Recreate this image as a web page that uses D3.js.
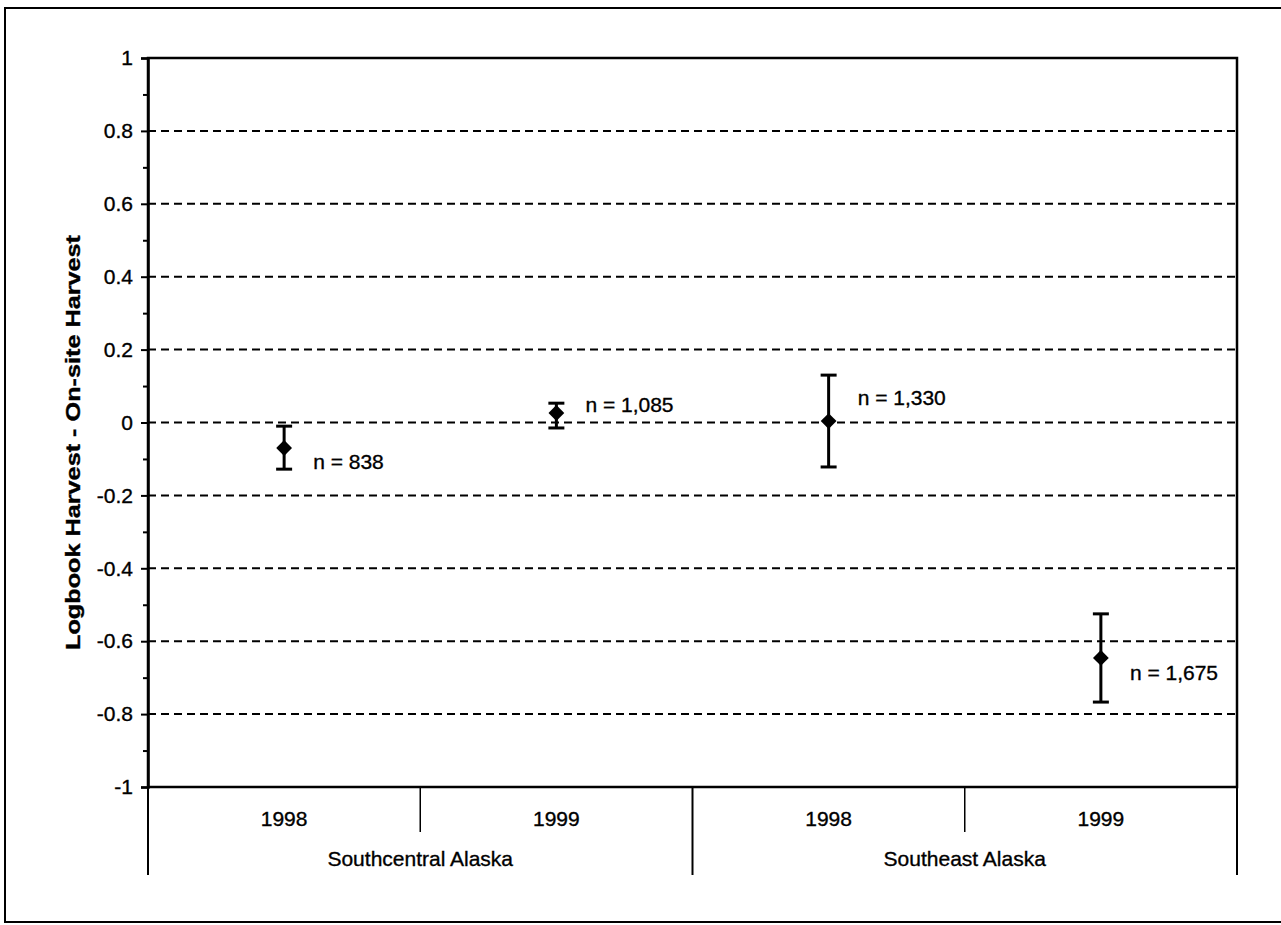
<!DOCTYPE html>
<meta charset="utf-8">
<head>
	<style>
		body {
			margin: 0;
			background: white;
			font-family: Arial, "Liberation Sans", Helvetica, sans-serif;
		}
		svg { display: block; }
		svg text { stroke: black; stroke-width: 0.35px; }
	</style>
	<script src="https://cdn.jsdelivr.net/npm/d3@7"></script>
</head>
<body>
	<svg id="chart"></svg>
</body>
<script>

// data
let regions = ["Southcentral Alaska", "Southeast Alaska"]
let years = ["1998", "1999", "1998", "1999"]
let means = [-0.07, 0.026, 0.004, -0.646]
let lower = [-0.128, -0.015, -0.122, -0.767]
let upper = [-0.01, 0.053, 0.13, -0.525]
let sampleLabels = ["n = 838", "n = 1,085", "n = 1,330", "n = 1,675"]
let labelAt = [-0.108, 0.048, 0.067, -0.685]   // where the n labels sit, in data units
let yTicks = [-1, -0.8, -0.6, -0.4, -0.2, 0, 0.2, 0.4, 0.6, 0.8, 1]
let yMinor = [-0.9, -0.7, -0.5, -0.3, -0.1, 0.1, 0.3, 0.5, 0.7, 0.9]

let fontSize = 21

function getConfig() {
	let width = 1281
	let height = 925
	let margin = { top: 58, bottom: 138, left: 148, right: 44 }
	let bodyHeight = height - margin.top - margin.bottom
	let bodyWidth = width - margin.left - margin.right
	let container = d3.select("#chart")
		.attr("width", width)
		.attr("height", height)
	return { width, height, margin, bodyHeight, bodyWidth, container }
}

function getScales(config) {
	let { margin, bodyWidth, bodyHeight } = config
	let keys = years.map((y, i) => i)
	let xScale = d3.scaleBand()
		.domain(keys)
		.range([margin.left, margin.left + bodyWidth])
		.padding(0)
	let yScale = d3.scaleLinear()
		.domain([-1, 1])
		.range([margin.top + bodyHeight, margin.top])
	return { xScale, yScale }
}

function drawFrame(config) {
	let { container } = config
	// outer border of the figure
	container.append("rect")
		.attr("x", 5).attr("y", 8)
		.attr("width", 1290).attr("height", 914)
		.attr("fill", "none")
		.attr("stroke", "black")
		.attr("stroke-width", 2)
}

function drawGrid(scales, config) {
	let { yScale } = scales
	let { container, margin, bodyWidth } = config
	container.append("g")
		.selectAll("line")
		.data(yTicks.filter(t => t > -1 && t < 1))
		.enter()
		.append("line")
		.attr("x1", margin.left)
		.attr("x2", margin.left + bodyWidth)
		.attr("y1", d => yScale(d))
		.attr("y2", d => yScale(d))
		.attr("stroke", "black")
		.attr("stroke-width", 2)
		.attr("stroke-dasharray", "8,5")
}

function drawAxes(scales, config) {
	let { xScale, yScale } = scales
	let { container, margin, bodyWidth, bodyHeight } = config
	let bottom = margin.top + bodyHeight

	// plot box
	container.append("rect")
		.attr("x", margin.left).attr("y", margin.top)
		.attr("width", bodyWidth).attr("height", bodyHeight)
		.attr("fill", "none")
		.attr("stroke", "black")
		.attr("stroke-width", 2.5)

	let axisY = d3.axisLeft(yScale)
		.tickValues(yTicks)
		.tickFormat(d => String(+d.toFixed(1)))   // plain hyphen, not the unicode minus
		.tickSize(7)
		.tickPadding(8)
	let gy = container.append("g")
		.attr("transform", `translate(${margin.left},0)`)
		.call(axisY)
	gy.select(".domain").attr("stroke-width", 2.5)
	gy.selectAll(".tick line").attr("stroke-width", 2)
	gy.selectAll("text")
		.attr("font-family", "Arial, 'Liberation Sans', sans-serif")
		.attr("font-size", fontSize)
		.attr("fill", "black")

	let minorY = d3.axisLeft(yScale).tickValues(yMinor).tickSize(5).tickFormat("")
	let gm = container.append("g")
		.attr("transform", `translate(${margin.left},0)`)
		.call(minorY)
	gm.select(".domain").remove()
	gm.selectAll(".tick line").attr("stroke-width", 2)

	// category axis: year separators and region separators
	let step = xScale.bandwidth()
	let edges = d3.range(years.length + 1).map(i => margin.left + i * step)
	let cat = container.append("g")
	cat.selectAll("line")
		.data(edges)
		.enter()
		.append("line")
		.attr("x1", d => d).attr("x2", d => d)
		.attr("y1", bottom)
		.attr("y2", (d, i) => i % 2 === 0 ? bottom + 88 : bottom + 45)
		.attr("stroke", "black")
		.attr("stroke-width", (d, i) => i % 2 === 0 ? 2 : 1.5)

	cat.selectAll(".year")
		.data(years)
		.enter()
		.append("text")
		.attr("x", (d, i) => xScale(i) + step / 2)
		.attr("y", bottom + 39)
		.attr("text-anchor", "middle")
		.attr("font-size", fontSize)
		.text(d => d)

	cat.selectAll(".region")
		.data(regions)
		.enter()
		.append("text")
		.attr("x", (d, i) => xScale(i * 2) + step)
		.attr("y", bottom + 79)
		.attr("text-anchor", "middle")
		.attr("font-size", fontSize)
		.text(d => d)

	container.append("text")
		.attr("transform", `translate(80,${yScale(0) + 20}) rotate(-90)`)
		.attr("text-anchor", "middle")
		.attr("font-size", 20)
		.attr("font-weight", "bold")
		.attr("textLength", 415)
		.attr("lengthAdjust", "spacingAndGlyphs")
		.text("Logbook Harvest - On-site Harvest")
}

function drawPoints(scales, config) {
	let { xScale, yScale } = scales
	let { container } = config
	let half = xScale.bandwidth() / 2
	let capW = 8
	let data = means.map((m, i) => ({ i, m, lo: lower[i], hi: upper[i], label: sampleLabels[i], ly: labelAt[i] }))

	let g = container.append("g")
		.selectAll("g")
		.data(data)
		.enter()
		.append("g")
		.attr("transform", d => `translate(${xScale(d.i) + half},0)`)

	g.append("line")
		.attr("x1", 0).attr("x2", 0)
		.attr("y1", d => yScale(d.hi))
		.attr("y2", d => yScale(d.lo))
		.attr("stroke", "black")
		.attr("stroke-width", 3)

	g.selectAll(".cap")
		.data(d => [d.hi, d.lo])
		.enter()
		.append("line")
		.attr("x1", -capW).attr("x2", capW)
		.attr("y1", v => yScale(v))
		.attr("y2", v => yScale(v))
		.attr("stroke", "black")
		.attr("stroke-width", 3)

	g.append("path")
		.attr("d", d3.symbol().type(d3.symbolSquare).size(125))
		.attr("transform", d => `translate(0,${yScale(d.m)}) rotate(45)`)
		.attr("fill", "black")

	g.append("text")
		.attr("x", 29)
		.attr("y", d => yScale(d.ly))
		.attr("dy", "0.35em")
		.attr("font-size", fontSize)
		.text(d => d.label)
}

function showChart() {
	let config = getConfig()
	let scales = getScales(config)
	drawFrame(config)
	drawGrid(scales, config)
	drawAxes(scales, config)
	drawPoints(scales, config)
}

showChart()

</script>
